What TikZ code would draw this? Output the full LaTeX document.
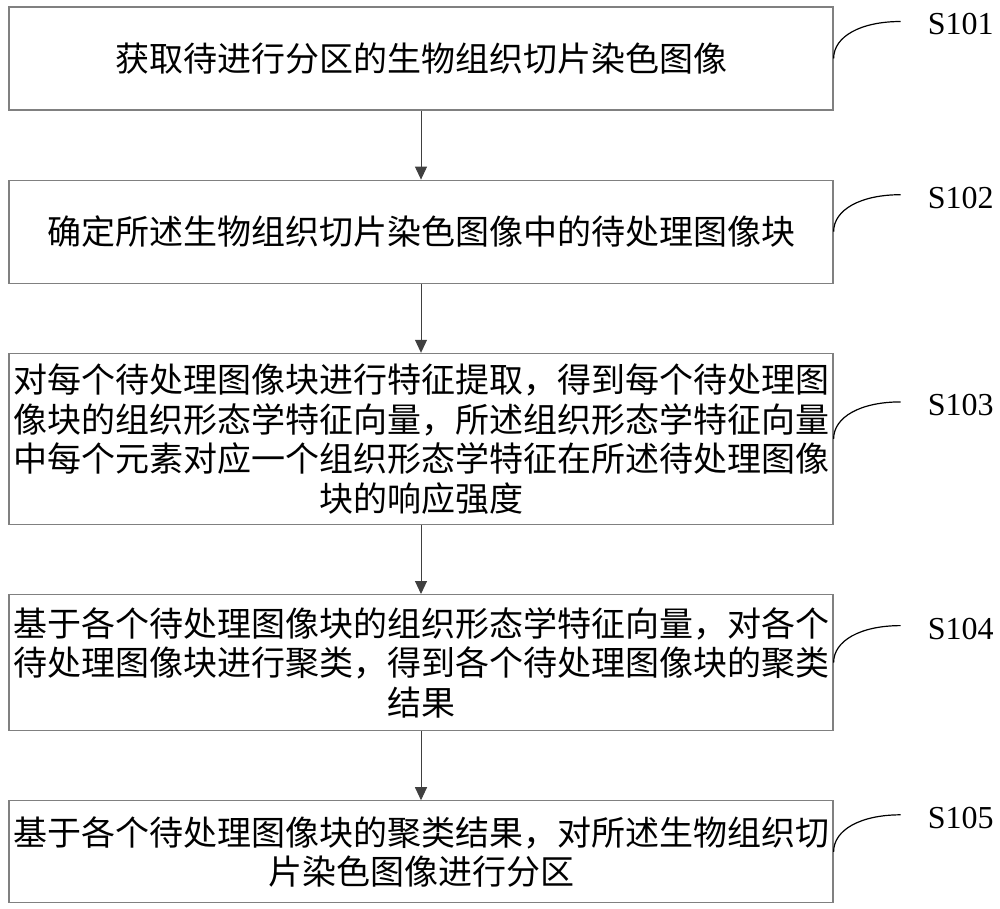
\documentclass[tikz,border=0pt]{standalone}
\usepackage{fontspec}
\setmainfont{Liberation Serif}
\newfontfamily\cjk{Noto Sans CJK SC}
\usetikzlibrary{positioning,arrows.meta}

\begin{document}
\begin{tikzpicture}[x=1pt, y=-1pt, node distance=69pt,
        stepbox/.style={draw=gray, line width=1.2pt, minimum width=824pt, text width=816pt,
            align=center, inner sep=0pt, font=\cjk\fontsize{34pt}{39.5pt}\selectfont},
        steplabel/.style={inner sep=0pt, yshift=-3pt, font=\fontsize{32pt}{32pt}\selectfont},
        flowarrow/.style={draw=black!75, line width=1pt, -{Triangle[length=13pt, width=12pt]}},
        leader/.style={line width=1.2pt}]
        \useasboundingbox (0,0) rectangle (1000,908);
        % Draw the step boxes
        \node[stepbox, minimum height=103pt] (b1) at (421,58.5) {获取待进行分区的生物组织切片染色图像};
        \node[stepbox, minimum height=103pt, below=of b1] (b2) {确定所述生物组织切片染色图像中的待处理图像块};
        \node[stepbox, minimum height=171pt, below=of b2] (b3) {对每个待处理图像块进行特征提取，得到每个待处理图\\像块的组织形态学特征向量，所述组织形态学特征向量\\中每个元素对应一个组织形态学特征在所述待处理图像\\块的响应强度};
        \node[stepbox, minimum height=136pt, below=of b3] (b4) {基于各个待处理图像块的组织形态学特征向量，对各个\\待处理图像块进行聚类，得到各个待处理图像块的聚类\\结果};
        \node[stepbox, minimum height=102pt, below=of b4] (b5) {基于各个待处理图像块的聚类结果，对所述生物组织切\\片染色图像进行分区};
        % Connect the boxes
        \foreach \a/\b in {b1/b2, b2/b3, b3/b4, b4/b5} {
            \draw[flowarrow] (\a) -- (\b);
        }
        % Add step numbers
        \foreach \i in {1,...,5} {
            \coordinate[above right=37pt and 67pt of b\i.east] (c\i);
            \draw[leader] (b\i.east) .. controls +(0,-22) and +(-40,0) .. (c\i);
            \node[steplabel, right=27pt of c\i] (s\i) {S10\i};
        }
    \end{tikzpicture}
\end{document}
